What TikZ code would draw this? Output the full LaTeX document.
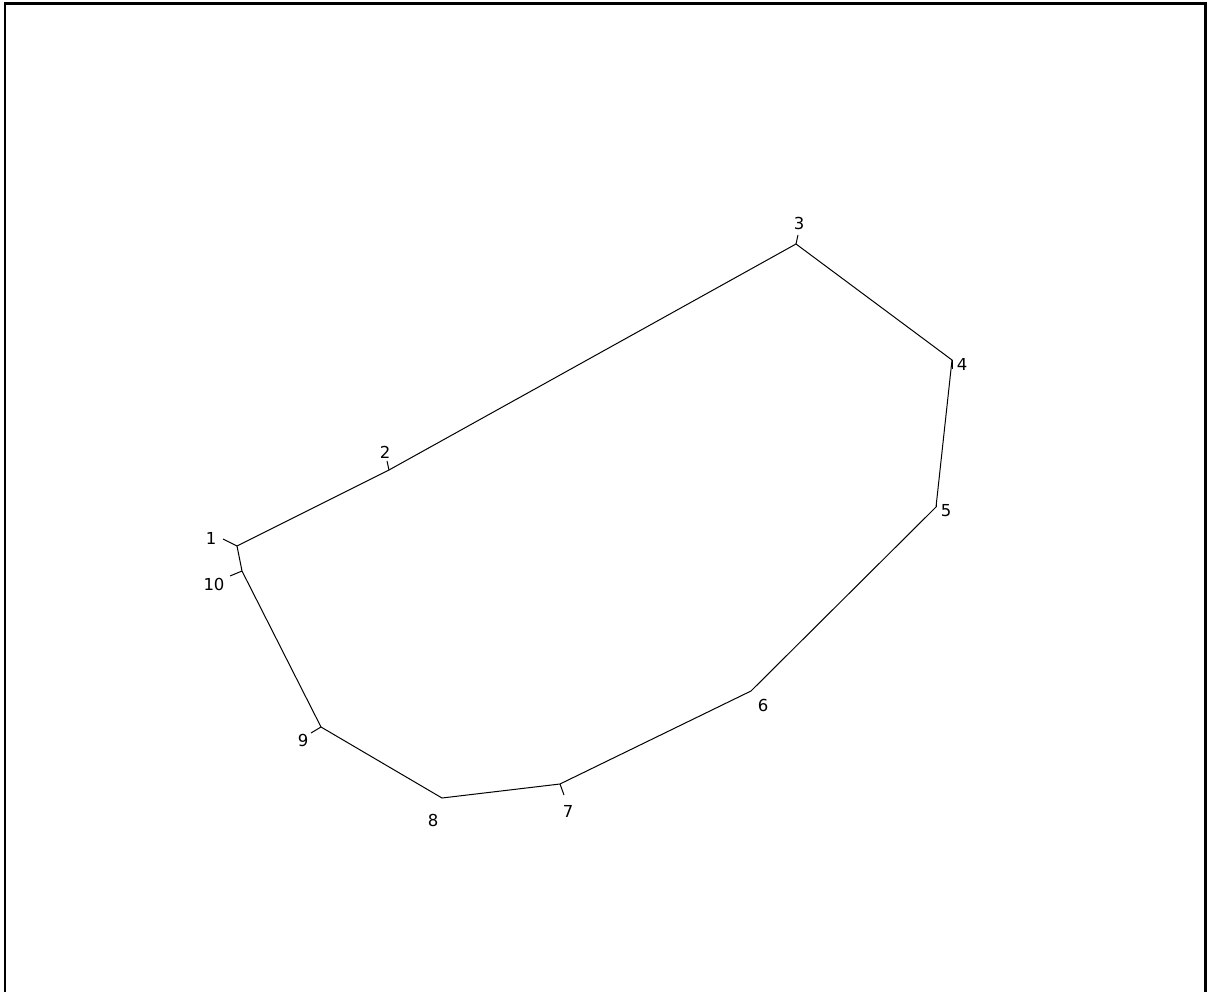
\documentclass[tikz,border=0pt]{standalone}
\usepackage{fontspec}
\setmainfont{DejaVu Sans}
\begin{document}
\begin{tikzpicture}[x=1pt,y=-1pt,
  edge/.style={draw=black,line width=1pt},
  tick/.style={draw=black,line width=1pt},
  lbl/.style={font=\fontsize{16.5}{16.5}\selectfont,inner sep=0pt}]
\useasboundingbox (0,0) rectangle (1210,992);
\fill[white] (0,0) rectangle (1210,992);
% frame (open at bottom)
\draw[line width=2.2pt] (5,992) -- (5,3.5) -- (1205.5,3.5) -- (1205.5,992);
% vertices
\coordinate (v1) at (237,546);
\coordinate (v2) at (389,470);
\coordinate (v3) at (796,244);
\coordinate (v4) at (952,360);
\coordinate (v5) at (936,507);
\coordinate (v6) at (751,691);
\coordinate (v7) at (560,784);
\coordinate (v8) at (442,798);
\coordinate (v9) at (321,727);
\coordinate (v10) at (242,571);
\draw[edge] (v1) -- (v2) -- (v3) -- (v4) -- (v5) -- (v6) -- (v7) -- (v8) -- (v9) -- (v10) -- cycle;
% tick ends
\coordinate (t1) at (223,539);
\coordinate (t2) at (387,461);
\coordinate (t3) at (798,235);
\coordinate (t4) at (952,369);
\coordinate (t5) at (936,500);
\coordinate (t7) at (564,795);
\coordinate (t9) at (311,733);
\coordinate (t10) at (230,576);
\draw[tick] (v1) -- (t1);
\draw[tick] (v2) -- (t2);
\draw[tick] (v3) -- (t3);
\draw[tick] (v4) -- (t4);
\draw[tick] (v5) -- (t5);
\draw[tick] (v7) -- (t7);
\draw[tick] (v9) -- (t9);
\draw[tick] (v10) -- (t10);
% labels
\node[lbl] (l1) at (211,538) {1};
\node[lbl] (l2) at (385,452) {2};
\node[lbl] (l3) at (799,223) {3};
\node[lbl] (l4) at (962,364) {4};
\node[lbl] (l5) at (946,511) {5};
\node[lbl] (l6) at (763,705) {6};
\node[lbl] (l7) at (568,811) {7};
\node[lbl] (l8) at (433,820) {8};
\node[lbl] (l9) at (303,740) {9};
\node[lbl] (l10) at (214,584) {10};
\end{tikzpicture}
\end{document}
